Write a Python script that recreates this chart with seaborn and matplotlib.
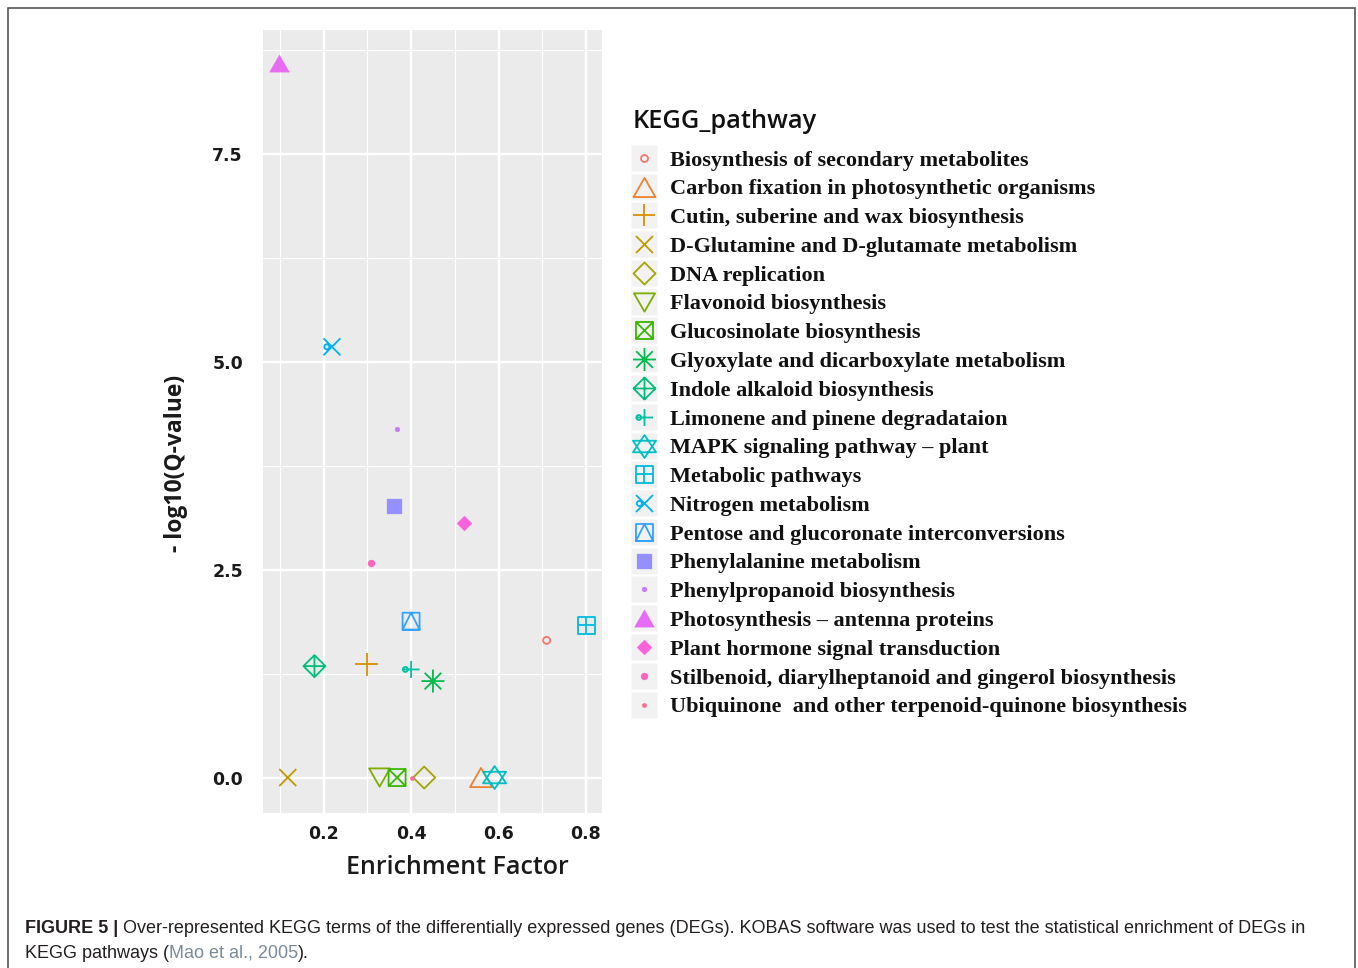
import numpy as np
import pandas as pd
import matplotlib
matplotlib.use("Agg")
import matplotlib.pyplot as plt
import seaborn as sns
from matplotlib.path import Path
from matplotlib.markers import MarkerStyle
from matplotlib.lines import Line2D
from matplotlib.legend_handler import HandlerTuple
from matplotlib.patches import Rectangle

# ---------------- data ----------------
pathways = [
    "Biosynthesis of secondary metabolites",
    "Carbon fixation in photosynthetic organisms",
    "Cutin, suberine and wax biosynthesis",
    "D-Glutamine and D-glutamate metabolism",
    "DNA replication",
    "Flavonoid biosynthesis",
    "Glucosinolate biosynthesis",
    "Glyoxylate and dicarboxylate metabolism",
    "Indole alkaloid biosynthesis",
    "Limonene and pinene degradataion",
    "MAPK signaling pathway \u2013 plant",
    "Metabolic pathways",
    "Nitrogen metabolism",
    "Pentose and glucoronate interconversions",
    "Phenylalanine metabolism",
    "Phenylpropanoid biosynthesis",
    "Photosynthesis \u2013 antenna proteins",
    "Plant hormone signal transduction",
    "Stilbenoid, diarylheptanoid and gingerol biosynthesis",
    "Ubiquinone  and other terpenoid-quinone biosynthesis",
]
enrichment = [0.710, 0.560, 0.299, 0.118, 0.430, 0.328, 0.368, 0.450, 0.179, 0.400,
              0.591, 0.801, 0.219, 0.400, 0.360, 0.368, 0.099, 0.520, 0.309, 0.403]
neg_log10_q = [1.65, 0.00, 1.36, 0.00, 0.00, 0.00, 0.00, 1.16, 1.34, 1.30,
               0.00, 1.83, 5.18, 1.88, 3.27, 4.19, 8.59, 3.06, 2.58, 0.00]

x_ticks = [0.2, 0.4, 0.6, 0.8]
x_tick_labels = ["0.2", "0.4", "0.6", "0.8"]
y_ticks = [0.0, 2.5, 5.0, 7.5]
y_tick_labels = ["0.0", "2.5", "5.0", "7.5"]

palette = ["#F8766D", "#EA8331", "#D89000", "#C09B00", "#A3A500", "#7CAE00", "#39B600",
           "#00BB4E", "#00BF7D", "#00C1A3", "#00BFC4", "#00BAE0", "#00B0F6", "#35A2FF",
           "#9590FF", "#C77CFF", "#E76BF3", "#FA62DB", "#FF62BC", "#FF6C91"]

df = pd.DataFrame({"KEGG_pathway": pathways,
                   "Enrichment Factor": enrichment,
                   "neglogq": neg_log10_q})

# ---------------- marker shapes (ggplot-like) ----------------
def segs(*pairs):
    v, c = [], []
    for a, b in pairs:
        v += [a, b]
        c += [Path.MOVETO, Path.LINETO]
    return Path(v, c)

def poly(*pts):
    v = list(pts) + [pts[0]]
    c = [Path.MOVETO] + [Path.LINETO] * (len(pts) - 1) + [Path.CLOSEPOLY]
    return Path(v, c)

def circ(cx, cy, r):
    u = Path.unit_circle()
    return Path(u.vertices * r + np.array([cx, cy]), u.codes)

comp = Path.make_compound_path
SQ = poly((-1, -1), (1, -1), (1, 1), (-1, 1))
PLUS = segs(((-1, 0), (1, 0)), ((0, -1), (0, 1)))
CROSS = segs(((-1, -1), (1, 1)), ((-1, 1), (1, -1)))
TRI_UP = poly((0, 0.87), (-1, -0.87), (1, -0.87))
TRI_DN = poly((0, -0.87), (-1, 0.87), (1, 0.87))
DIAM = poly((0, 1), (1, 0), (0, -1), (-1, 0))
CIRC = circ(0, 0, 1)
SQ_CROSS = comp(SQ, CROSS)
AST = comp(PLUS, segs(((-.72, -.72), (.72, .72)), ((-.72, .72), (.72, -.72))))
DIAM_PLUS = comp(DIAM, PLUS)
LIMO = comp(PLUS, circ(-0.67, 0, 0.29))
STAR = comp(poly((0, 1), (-1, -0.5), (1, -0.5)), poly((0, -1), (-1, 0.5), (1, 0.5)))
SQ_PLUS = comp(SQ, PLUS)
NITRO = comp(CROSS, circ(-0.6, 0, 0.3))
SQ_TRI = comp(SQ, poly((0, 1), (-1, -1), (1, -1)))

# (shape, filled, size in px)
style = [
    (CIRC, False, 7), (TRI_UP, False, 22), (PLUS, False, 23), (CROSS, False, 17),
    (DIAM, False, 22), (TRI_DN, False, 21), (SQ_CROSS, False, 17), (AST, False, 23),
    (DIAM_PLUS, False, 22), (LIMO, False, 17), (STAR, False, 23), (SQ_PLUS, False, 17),
    (NITRO, False, 17), (SQ_TRI, False, 17), (SQ, True, 15), (CIRC, True, 5),
    (TRI_UP, True, 20), (DIAM, True, 15), (CIRC, True, 7), (CIRC, True, 4.5),
]
PX2PT = 0.72
LW = 1.3

# ---------------- figure ----------------
sns.set_theme(style="darkgrid", rc={"axes.facecolor": "#EBEBEB", "grid.color": "white"})
plt.rcParams["font.family"] = ["DejaVu Sans"]

W, H = 1358, 968
fig = plt.figure(figsize=(W / 100, H / 100), dpi=100)
fig.patch.set_facecolor("white")
ax = fig.add_axes([263.3 / W, 1 - 813.3 / H, (601.7 - 263.3) / W, (813.3 - 30) / H])

for i in range(len(df)):
    shp, filled, d = style[i]
    c = palette[i]
    sns.scatterplot(data=df.iloc[[i]], x="Enrichment Factor", y="neglogq", ax=ax,
                    marker=MarkerStyle(shp), s=(d * PX2PT) ** 2, color=c,
                    facecolor=(c if filled else "none"), edgecolor=c,
                    linewidth=(0.2 if filled else LW), legend=False, zorder=3)

ax.set_xlim(0.062, 0.836)
ax.set_ylim(-0.43, 8.99)
ax.set_xticks(x_ticks, x_tick_labels, fontweight="bold")
ax.set_yticks(y_ticks, y_tick_labels, fontweight="bold")
ax.set_xticks([0.1, 0.3, 0.5, 0.7], minor=True)
ax.set_yticks([1.25, 3.75, 6.25, 8.75], minor=True)
ax.grid(which="major", color="white", linewidth=1.7)
ax.grid(which="minor", color="white", linewidth=0.8)
ax.set_axisbelow(True)
for sp in ax.spines.values():
    sp.set_visible(False)
ax.tick_params(which="major", length=3.2, width=1.1, color="#333333",
               labelsize=12.5, labelcolor="#1a1a1a")
ax.tick_params(axis="x", pad=5)
ax.tick_params(axis="y", pad=11.5)
ax.tick_params(which="minor", length=0)

ax.set_xlabel("Enrichment Factor", family="Open Sans", fontsize=18, fontweight="semibold",
              color="#1a1a1a")
ax.xaxis.label.set_va("baseline")
ax.xaxis.set_label_coords((457 - 263.3) / 338.4, (813.3 - 874) / 783.3)
ax.set_ylabel("- log10(Q-value)", family="Open Sans", fontsize=16.5, fontweight="bold",
              color="#1a1a1a")
ax.yaxis.label.set_va("baseline")
ax.yaxis.set_label_coords((181.7 - 263.3) / 338.4, (813.3 - 463) / 783.3)

# ---------------- legend ----------------
LEG_FS = 16.0
LEG_PX = LEG_FS / 0.72
handles = []
for i in range(len(pathways)):
    shp, filled, d = style[i]
    c = palette[i]
    bg = Line2D([], [], marker="s", markersize=27 * PX2PT, markerfacecolor="#F2F2F2",
                markeredgecolor="none", linestyle="none")
    mk = Line2D([], [], marker=MarkerStyle(shp), markersize=d * PX2PT,
                markerfacecolor=(c if filled else "none"), markeredgecolor=c,
                markeredgewidth=(0.2 if filled else LW), linestyle="none")
    handles.append((bg, mk))

leg = ax.legend(handles, pathways, handler_map={tuple: HandlerTuple(ndivide=1, pad=0)},
                loc="upper left", bbox_to_anchor=(630 / W, 1 - 150 / H),
                bbox_transform=fig.transFigure, frameon=False,
                prop={"family": "Liberation Serif", "weight": "bold", "size": LEG_FS},
                handlelength=27 / LEG_PX, handleheight=0.7, handletextpad=12.5 / LEG_PX,
                labelspacing=0.37, borderpad=0, borderaxespad=0)
for t in leg.get_texts():
    t.set_color("#111111")

fig.text(633 / W, 1 - 128 / H, "KEGG_pathway", ha="left", va="baseline",
         family="Open Sans", fontweight="semibold", fontsize=18.3, color="#111111")

# ---------------- frame and caption ----------------
fig.patches.append(Rectangle((8 / W, -0.05), (1355 - 8) / W, 1 - 8 / H + 0.05,
                             transform=fig.transFigure, fill=False,
                             edgecolor="#555555", linewidth=1.2))

renderer = fig.canvas.get_renderer()
cap_font = ["Liberation Sans", "DejaVu Sans"]

def text_runs(x_px, y_px, runs, size=12.95):
    x = x_px
    for s, weight, color in runs:
        t = fig.text(x / W, 1 - y_px / H, s, ha="left", va="baseline", fontsize=size,
                     family=cap_font, fontweight=weight, color=color)
        x += t.get_window_extent(renderer).width

text_runs(25, 933, [("FIGURE 5 | ", "bold", "#231F20"),
                    ("Over-represented KEGG terms of the differentially expressed genes (DEGs). "
                     "KOBAS software was used to test the statistical enrichment of DEGs in",
                     "normal", "#231F20")])
text_runs(25, 958, [("KEGG pathways (", "normal", "#231F20"),
                    ("Mao et al., 2005", "normal", "#7A8A9A"),
                    (").", "normal", "#231F20")])

fig.savefig("out.png", dpi=100)
